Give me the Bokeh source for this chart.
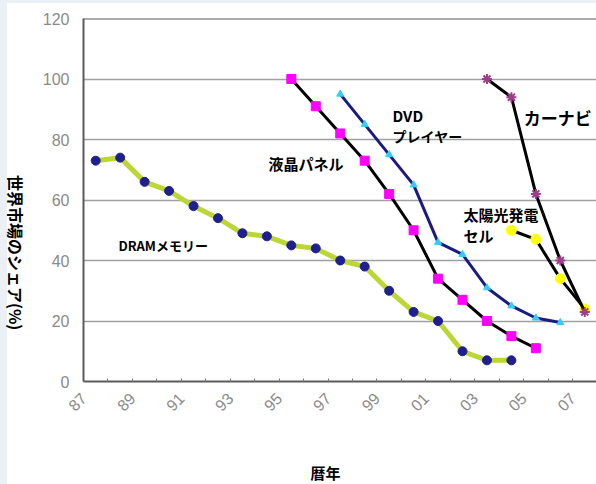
import math

from bokeh.core.properties import value
from bokeh.embed import file_html
from bokeh.models import (ColumnDataSource, CustomJSTickFormatter,
                          FixedTicker, Label, Range1d, Span)
from bokeh.plotting import figure
from bokeh.resources import INLINE

# --- data: world market share of Japanese makers (%) by calendar year ---
dram_years = [1987, 1988, 1989, 1990, 1991, 1992, 1993, 1994, 1995,
              1996, 1997, 1998, 1999, 2000, 2001, 2002, 2003, 2004]
dram_share = [73, 74, 66, 63, 58, 54, 49, 48, 45, 44, 40, 38, 30, 23, 20, 10, 7, 7]

lcd_years = [1995, 1996, 1997, 1998, 1999, 2000, 2001, 2002, 2003, 2004, 2005]
lcd_share = [100, 91, 82, 73, 62, 50, 34, 27, 20, 15, 11]

dvd_years = [1997, 1998, 1999, 2000, 2001, 2002, 2003, 2004, 2005, 2006]
dvd_share = [95, 85, 75, 65, 46, 42, 31, 25, 21, 19.5]

solar_years = [2004, 2005, 2006, 2007]
solar_share = [50, 47, 34, 24]

nav_years = [2003, 2004, 2005, 2006, 2007]
nav_share = [100, 94, 62, 40, 23]

y_ticks = [0, 20, 40, 60, 80, 100, 120]

# series captions drawn next to the lines
captions = ["DRAMメモリー", "液晶パネル", "DVD", "プレイヤー", "カーナビ", "太陽光発電", "セル"]
caption_x = [1987.93, 1994.07, 1999.14, 1999.14, 2004.5, 2002.04, 2002.04]
caption_y = [45.0, 72.1, 87.9, 81.0, 87.3, 55.2, 48.3]
caption_size = ["13px", "15px", "15px", "14px", "17px", "15px", "15px"]

JP_FONT = "Noto Sans CJK JP"
NUM_FONT = "Liberation Sans"
MARGIN = "#ebf0f7"

p = figure(width=596, height=484,
           x_range=Range1d(1986.5, 2007.48), y_range=Range1d(0, 120),
           output_backend="svg", toolbar_location=None,
           min_border_left=83, min_border_right=0,
           min_border_top=18, min_border_bottom=103)
p.background_fill_color = "white"
# transparent canvas border so the page background (pale left/top edge) shows
p.border_fill_color = None
p.styles = {
    "background": (f"linear-gradient(to bottom, {MARGIN} 3px, transparent 3px), "
                   f"linear-gradient(to right, {MARGIN} 7px, white 7px)"),
}
p.outline_line_color = None

# y axis
p.yaxis.ticker = FixedTicker(ticks=y_ticks)
p.yaxis.major_tick_in = 0
p.yaxis.major_tick_out = 0
p.yaxis.minor_tick_line_color = None
p.yaxis.axis_line_color = "#5a5a5a"
p.yaxis.axis_line_width = 2
p.yaxis.major_label_text_font = NUM_FONT
p.yaxis.major_label_text_font_size = "16px"
p.yaxis.major_label_text_color = "#8a8a8a"
p.yaxis.major_label_standoff = 14

# x axis: a tick at every year boundary, label on every other one
p.xaxis.ticker = FixedTicker(ticks=[1986.5 + i for i in range(21)])
p.xaxis.formatter = CustomJSTickFormatter(code="""
    const yr = Math.round(tick + 0.5);
    return (yr % 2 == 1) ? String(yr % 100).padStart(2, '0') : '';
""")
p.xaxis.major_label_orientation = math.pi / 4
p.xaxis.major_tick_in = 3
p.xaxis.major_tick_out = 0
p.xaxis.major_tick_line_color = "#7a7a7a"
p.xaxis.minor_tick_line_color = None
p.xaxis.axis_line_color = "#5a5a5a"
p.xaxis.axis_line_width = 2
p.xaxis.major_label_text_font = NUM_FONT
p.xaxis.major_label_text_font_size = "16px"
p.xaxis.major_label_text_color = "#8a8a8a"
p.xaxis.major_label_standoff = 14

p.xgrid.grid_line_color = None
p.ygrid.ticker = FixedTicker(ticks=y_ticks)
p.ygrid.grid_line_color = "#a0a0a0"
p.ygrid.grid_line_width = 1.5

p.add_layout(Span(location=120, dimension="width", line_color="#5a5a5a", line_width=2))

# DRAM
p.line(dram_years, dram_share, line_color="#bcd635", line_width=5)
p.scatter(dram_years, dram_share, marker="circle", size=9,
          fill_color="#1f1f8f", line_color="#1f1f8f")

# LCD panels
p.line(lcd_years, lcd_share, line_color="black", line_width=3)
p.scatter(lcd_years, lcd_share, marker="square", size=9,
          fill_color="#ff00ff", line_color="#ff00ff")

# DVD players
p.line(dvd_years, dvd_share, line_color="#1a1a80", line_width=3)
p.scatter(dvd_years, dvd_share, marker="triangle", size=7,
          fill_color="#33ccff", line_color="#33ccff")

# solar cells
p.line(solar_years, solar_share, line_color="black", line_width=3)
p.scatter(solar_years, solar_share, marker="circle", size=10,
          fill_color="#ffff00", line_color="#ffff00")

# car navigation
p.line(nav_years, nav_share, line_color="black", line_width=3)
p.scatter(nav_years, nav_share, marker="asterisk", size=10,
          line_color="#a03c8c", line_width=2)

cap_src = ColumnDataSource(dict(x=caption_x, y=caption_y, text=captions,
                                size=caption_size))
p.text(x="x", y="y", text="text", source=cap_src,
       text_font=value(JP_FONT), text_font_style="bold",
       text_font_size="size", text_color="black",
       text_align="left", text_baseline="middle")

# y title: rotated to read top to bottom, kept in the left margin
p.add_layout(Label(x=0, y=42.6, x_units="screen", y_units="data",
                   text="世界市場のシェア(%)", angle=-math.pi / 2,
                   text_font=JP_FONT, text_font_style="bold",
                   text_font_size="16px", text_color="black",
                   text_align="center", text_baseline="middle"), "left")

# x title in the bottom margin, under the tick labels
p.add_layout(Label(x=1996.4, y=-32, x_units="data", y_units="screen",
                   text="暦年", text_font=JP_FONT, text_font_style="bold",
                   text_font_size="15px", text_color="black",
                   text_align="center", text_baseline="middle"), "below")

with open("out.html", "w") as f:
    f.write(file_html(p, INLINE))
